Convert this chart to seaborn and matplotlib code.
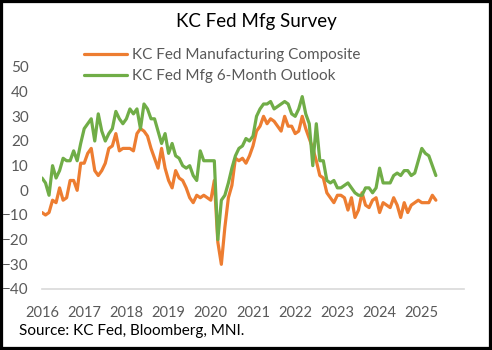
import numpy as np
import pandas as pd
import seaborn as sns
import matplotlib
matplotlib.use("Agg")
import matplotlib.pyplot as plt
from matplotlib.patches import Rectangle
from matplotlib.lines import Line2D

# ---- data (monthly, Jan 2016 - May 2025) ----
composite = [
    -9, -10, -9, -4, -5, 1, -4, -3, 4, 4, 0, 11,          # 2016
    11, 15, 17, 8, 6, 8, 11, 17, 18, 23, 16, 17,          # 2017
    17, 17, 16, 23, 25, 24, 22, 17, 13, 9, 17, 9,         # 2018
    4, 1, 8, 5, 4, 1, -3, -5, -2, -3, -2, -3,             # 2019
    -4, 4, -21, -30, -15, -3, 2, 13, 12, 13, 11, 14,      # 2020
    18, 24, 26, 30, 27, 29, 28, 26, 24, 30, 26, 26,       # 2021
    23, 24, 30, 25, 21, 17, 12, 6, 5, -1, -3, -5,         # 2022
    -2, -2, -3, -8, -3, -11, -8, -1, -6, -7, -4, -3,      # 2023
    -9, -5, -6, -7, -3, -6, -11, -5, -9, -6, -5, -4,      # 2024
    -5, -5, -5, -2, -4,                                   # 2025
]
outlook = [
    5, 3, -2, 10, 5, 8, 13, 12, 12, 16, 12, 19,           # 2016
    25, 27, 29, 20, 31, 24, 20, 23, 25, 32, 29, 27,       # 2017
    29, 33, 31, 33, 25, 35, 33, 29, 29, 24, 19, 23,       # 2018
    15, 19, 14, 13, 10, 9, 10, 6, 4, 16, 12, 12,          # 2019
    12, 12, -20, -4, -2, 3, 9, 14, 17, 18, 21, 20,        # 2020
    22, 30, 33, 35, 35, 36, 33, 34, 35, 36, 35, 31,       # 2021
    30, 33, 38, 31, 27, 10, 27, 12, 12, 4, 3, 4,          # 2022
    1, 1, 2, 3, 1, -1, -2, -2, 1, 1, -1, 1,               # 2023
    9, 3, 3, 3, 6, 7, 6, 8, 8, 6, 7, 12,                  # 2024
    17, 15, 14, 10, 6,                                    # 2025
]
start_year = 2016
year_ticks = list(range(2016, 2026))
y_ticks = list(range(-40, 51, 10))
series_names = ["KC Fed Manufacturing Composite", "KC Fed Mfg 6-Month Outlook"]
title = "KC Fed Mfg Survey"
source = "Source: KC Fed, Bloomberg, MNI."

n = len(composite)
dates = [start_year + i / 12 for i in range(n)]
df = pd.DataFrame({
    "date": dates * 2,
    "value": composite + outlook,
    "series": [series_names[0]] * n + [series_names[1]] * n,
})

sns.set_style("white")
plt.rcParams["font.family"] = ["Lato", "DejaVu Sans"]

W, H = 492, 350
fig = plt.figure(figsize=(W / 100, H / 100), dpi=100)
ax = fig.add_axes([42 / W, 1 - 289 / H, (464 - 42) / W, (289 - 67) / H])

palette = {series_names[0]: "#ED7D31", series_names[1]: "#70AD47"}
sns.lineplot(data=df, x="date", y="value", hue="series", palette=palette,
             linewidth=2.3, ax=ax, legend=False)

ax.set_xlim(2016, 2026)
ax.set_ylim(-40, 50)
ax.set_xticks(year_ticks)
ax.set_xticklabels([str(y) for y in year_ticks])
ax.set_yticks(y_ticks)
ax.set_xlabel("")
ax.set_ylabel("")
for s in ["top", "right", "left"]:
    ax.spines[s].set_visible(False)
ax.spines["bottom"].set_color("#D9D9D9")
ax.spines["bottom"].set_linewidth(1.2)
ax.spines["bottom"].set_position(("data", -40))
ax.tick_params(axis="both", length=0, colors="#595959")
ax.tick_params(axis="x", pad=12.5, labelsize=10.5)
ax.tick_params(axis="y", pad=9.5, labelsize=11)

# legend
handles = [Line2D([], [], color=palette[s], lw=2.3) for s in series_names]
leg = fig.legend(handles, series_names, loc="upper left",
                 bbox_to_anchor=(84 / W, 1 - 48 / H), bbox_transform=fig.transFigure,
                 frameon=False, fontsize=11, handlelength=2.8, handletextpad=0.35,
                 labelspacing=0.45, borderpad=0, borderaxespad=0)
for t in leg.get_texts():
    t.set_color("#595959")

fig.text(256 / W, 1 - 22 / H, title, ha="center", va="center", fontsize=13.5, color="black")
fig.text(19 / W, 1 - 331 / H, source, ha="left", va="center", fontsize=11, color="black")

fig.patches.append(Rectangle((0, 0), 1, 1, transform=fig.transFigure, fill=False,
                             edgecolor="black", linewidth=4.5, figure=fig))

fig.savefig("out.png", dpi=100)
